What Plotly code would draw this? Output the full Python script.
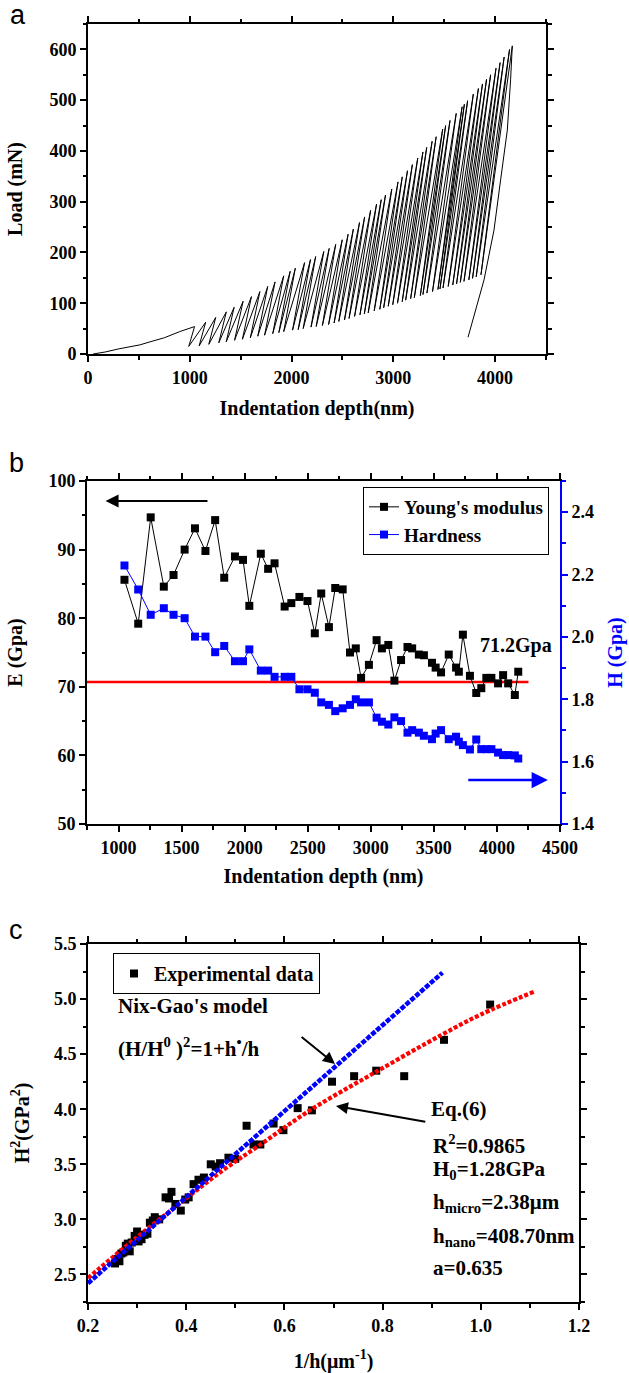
import plotly.graph_objects as go

W, H = 629, 1373
SERIF = "Liberation Serif"
SANS = "Liberation Sans"

# ---------------- Panel a : multi-cycle load / depth curve ----------------
init_depth = [50, 170, 300, 510, 610, 750, 900, 1000, 1047]
init_load = [0, 4, 10, 18, 24, 32, 44, 51, 54]

cycle_depth = [1047, 1156, 1255, 1359, 1436, 1524, 1606, 1689, 1766, 1838,
               1923, 1987, 2037, 2128, 2186, 2237, 2317, 2370, 2434, 2498,
               2556, 2607, 2668, 2718, 2777, 2835, 2881, 2923, 2985, 3046,
               3088, 3139, 3187, 3240, 3291, 3328, 3381, 3421, 3485, 3514,
               3557, 3618, 3676, 3698, 3730, 3786, 3836, 3876, 3916, 3956,
               4009, 4049, 4089, 4142, 4169]
peak_load = [54, 62.5, 72, 83, 92, 104, 113, 123, 133, 142,
             154, 163, 169, 180, 186, 192, 202, 208, 216, 225,
             236, 246, 259, 270, 283, 295, 304, 313, 325, 339,
             349, 361, 373, 386, 398, 407, 419, 428, 443, 450,
             460, 474, 487, 492, 499, 512, 523, 532, 541, 550,
             563, 574, 585, 600, 607]
valley_depth = [990, 1092, 1187, 1285, 1358, 1440, 1517, 1595, 1668, 1735,
                1815, 1875, 1923, 2010, 2065, 2114, 2191, 2242, 2303, 2364,
                2418, 2464, 2520, 2565, 2619, 2672, 2715, 2753, 2812, 2867,
                2905, 2950, 2994, 3041, 3087, 3121, 3170, 3206, 3265, 3291,
                3330, 3385, 3438, 3458, 3488, 3539, 3584, 3621, 3658, 3694,
                3742, 3778, 3814, 3861]
valley_load = [15, 16, 19, 22, 24, 27, 29, 32, 35, 37,
               40, 42, 44, 47, 48, 50, 53, 54, 56, 58,
               61, 64, 67, 70, 74, 77, 79, 81, 85, 88,
               91, 94, 97, 100, 103, 106, 109, 111, 115, 117,
               120, 123, 127, 128, 130, 133, 136, 138, 141, 143,
               146, 149, 152, 156]
final_unload_depth = [4169, 4152, 4120, 4054, 3989, 3891, 3810, 3734]
final_unload_load = [607, 540, 441, 343, 244, 146, 88, 33]

# ---------------- Panel b : modulus and hardness ----------------
E_gpa = [85.6, 79.2, 94.7, 84.6, 86.3, 90.0, 93.1, 89.8, 94.3, 85.9,
         89.0, 88.5, 81.8, 89.4, 87.2, 88.0, 81.7, 82.2, 83.1, 82.5,
         77.8, 83.6, 78.7, 84.4, 84.2, 75.0, 75.6, 71.3, 73.2, 76.8,
         75.6, 76.1, 70.9, 73.9, 75.8, 75.6, 74.7, 74.6, 73.5, 72.8,
         72.1, 74.7, 72.8, 72.2, 77.6, 71.6, 69.1, 69.8, 71.3, 71.3,
         70.5, 71.7, 70.5, 68.8, 72.2]
H_gpa = [2.229, 2.152, 2.071, 2.092, 2.071, 2.060, 2.001, 2.001, 1.951, 1.971,
         1.922, 1.922, 1.960, 1.892, 1.892, 1.872, 1.872, 1.872, 1.832, 1.832,
         1.821, 1.790, 1.782, 1.762, 1.771, 1.782, 1.800, 1.790, 1.790, 1.741,
         1.728, 1.719, 1.742, 1.730, 1.693, 1.701, 1.693, 1.683, 1.672, 1.690,
         1.701, 1.672, 1.680, 1.664, 1.653, 1.639, 1.671, 1.640, 1.640, 1.640,
         1.629, 1.621, 1.621, 1.620, 1.610]
E_ref_value = 70.7
E_ref_span = [750, 4250]

# ---------------- Panel c : H^2 versus 1/h ----------------
inv_h = [0.255, 0.260, 0.264, 0.268, 0.272, 0.277, 0.281, 0.285, 0.289, 0.295,
         0.300, 0.303, 0.309, 0.315, 0.321, 0.326, 0.332, 0.336, 0.345, 0.358,
         0.365, 0.370, 0.378, 0.389, 0.398, 0.405, 0.415, 0.425, 0.436, 0.450,
         0.460, 0.469, 0.486, 0.500, 0.523, 0.537, 0.551, 0.578, 0.598, 0.627,
         0.656, 0.697, 0.742, 0.787, 0.844, 0.925, 1.019]
H_sq = [2.60, 2.64, 2.62, 2.69, 2.70, 2.76, 2.78, 2.71, 2.79, 2.85,
        2.89, 2.80, 2.82, 2.86, 2.87, 2.97, 2.99, 3.02, 3.00, 3.20,
        3.19, 3.25, 3.14, 3.08, 3.18, 3.20, 3.32, 3.36, 3.38, 3.50,
        3.48, 3.51, 3.56, 3.55, 3.85, 3.68, 3.68, 3.87, 3.81, 4.01,
        3.99, 4.25, 4.30, 4.35, 4.30, 4.63, 4.95]
nixgao_x = [0.2, 0.922]
nixgao_y = [2.42, 5.24]
eq6_x = [0.2, 0.3, 0.4, 0.476, 0.545, 0.652, 0.783, 0.92, 1.0, 1.11]
eq6_y = [2.467, 2.84, 3.19, 3.45, 3.66, 3.99, 4.33, 4.675, 4.86, 5.07]

# build the zig-zag loading path for panel a
path_x = list(init_depth)
path_y = list(init_load)
for i in range(len(valley_depth)):
    path_x += [valley_depth[i], cycle_depth[i + 1]]
    path_y += [valley_load[i], peak_load[i + 1]]
path_x += final_unload_depth[1:]
path_y += final_unload_load[1:]

fig = go.Figure()

fig.add_trace(go.Scatter(x=path_x, y=path_y, mode="lines",
                         line=dict(color="black", width=1),
                         xaxis="x", yaxis="y", showlegend=False))

fig.add_trace(go.Scatter(x=E_ref_span, y=[E_ref_value, E_ref_value], mode="lines",
                         line=dict(color="#ff0000", width=2.5),
                         xaxis="x2", yaxis="y2", showlegend=False))
fig.add_trace(go.Scatter(x=cycle_depth, y=E_gpa, mode="lines+markers",
                         name="Young's modulus",
                         line=dict(color="black", width=1),
                         marker=dict(symbol="square", size=8, color="black"),
                         xaxis="x2", yaxis="y2", legend="legend"))
fig.add_trace(go.Scatter(x=cycle_depth, y=H_gpa, mode="lines+markers",
                         name="Hardness",
                         line=dict(color="#0000ff", width=1),
                         marker=dict(symbol="square", size=8, color="#0000ff"),
                         xaxis="x2", yaxis="y3", legend="legend"))

fig.add_trace(go.Scatter(x=inv_h, y=H_sq, mode="markers", name="Experimental data",
                         marker=dict(symbol="square", size=8, color="black"),
                         xaxis="x3", yaxis="y4", legend="legend2"))
fig.add_trace(go.Scatter(x=eq6_x, y=eq6_y, mode="lines",
                         line=dict(color="#ff0000", width=4.2, shape="spline", dash="4px,2px"),
                         xaxis="x3", yaxis="y4", showlegend=False))
fig.add_trace(go.Scatter(x=nixgao_x, y=nixgao_y, mode="lines",
                         line=dict(color="#0000ff", width=4.5, dash="5px,1.5px"),
                         xaxis="x3", yaxis="y4", showlegend=False))

tickfont = dict(family=SERIF, size=18, color="black", weight="bold")
titlefont = dict(family=SERIF, size=20, color="black", weight="bold")


def ax(rng, dtick, minor_dtick, domain, title, standoff, tick0=None, fmt=None,
       mirror="ticks", color="black", tfont=None):
    d = dict(range=rng, dtick=dtick, domain=domain, showline=True, linecolor=color,
             linewidth=2, mirror=mirror, ticks="outside", ticklen=6, tickwidth=2,
             tickcolor=color, showgrid=False, zeroline=False, automargin=False,
             tickfont=tickfont,
             minor=dict(dtick=minor_dtick, ticks="outside", ticklen=3.5, tickwidth=1.5,
                        tickcolor=color, showgrid=False),
             title=dict(text=title, font=tfont or titlefont, standoff=standoff))
    if tick0 is not None:
        d["tick0"] = tick0
        d["minor"]["tick0"] = tick0
    if fmt:
        d["tickformat"] = fmt
    return d


fig.update_layout(
    width=W, height=H, margin=dict(l=0, r=0, t=0, b=0),
    template="none", paper_bgcolor="white", plot_bgcolor="white",
    xaxis=ax([0, 4500], 1000, 500, [88 / W, 546 / W], "Indentation depth(nm)", 14,
             tick0=0),
    yaxis=ax([0, 650], 100, 50, [1 - 354 / H, 1 - 24 / H], "Load (mN)", 21, tick0=0),
    xaxis2=ax([750, 4500], 500, 250, [87 / W, 560 / W], "Indentation depth (nm)", 12,
              tick0=1000),
    yaxis2=ax([50, 100], 10, 5, [1 - 824 / H, 1 - 481 / H], "E (Gpa)", 20, tick0=50,
              mirror=False),
    xaxis3=ax([0.2, 1.2], 0.2, 0.1, [88 / W, 579 / W], "1/h(μm<sup>-1</sup>)", 19,
              tick0=0.2, fmt=".1f"),
    yaxis4=ax([2.25, 5.5], 0.5, 0.25, [1 - 1302 / H, 1 - 944 / H],
              "H<sup>2</sup>(GPa<sup>2</sup>)", 19, tick0=2.5, fmt=".1f"),
    legend=dict(x=549 / W, xanchor="right", y=1 - 487 / H, yanchor="top",
                bordercolor="black", borderwidth=1, bgcolor="white",
                font=dict(family=SERIF, size=19, color="black", weight="bold"),
                tracegroupgap=0),
    legend2=dict(x=113 / W, xanchor="left", y=1 - 953 / H, yanchor="top",
                 bordercolor="black", borderwidth=1, bgcolor="white",
                 font=dict(family=SERIF, size=20, color="black", weight="bold")),
)
fig.layout.xaxis.anchor = "y"
fig.layout.yaxis.anchor = "x"
fig.layout.xaxis2.anchor = "y2"
fig.layout.yaxis2.anchor = "x2"
fig.layout.xaxis3.anchor = "y4"
fig.layout.yaxis4.anchor = "x3"

y3 = ax([1.4, 2.5], 0.2, 0.1, [1 - 824 / H, 1 - 481 / H], "H (Gpa)", 15, tick0=1.4,
        fmt=".1f", mirror=False, color="#0000ff",
        tfont=dict(family=SERIF, size=20, color="#0000ff", weight="bold"))
y3.update(overlaying="y2", side="right", anchor="x2")
fig.update_layout(yaxis3=y3)

ann = []
for letter, px, py in [("a", 18, 15), ("b", 16, 463), ("c", 16, 930)]:
    ann.append(dict(text=letter, x=px / W, y=1 - py / H, xref="paper", yref="paper",
                    xanchor="center", yanchor="middle", showarrow=False,
                    font=dict(family=SANS, size=27, color="black")))

# panel b arrows and label
ann.append(dict(text="", x=897, y=97.1, ax=1717, ay=97.1, xref="x2", yref="y2",
                axref="x2", ayref="y2", showarrow=True, arrowhead=2, arrowsize=1.3,
                arrowwidth=2, arrowcolor="black"))
ann.append(dict(text="", x=4404, y=56.4, ax=3761, ay=56.4, xref="x2", yref="y2",
                axref="x2", ayref="y2", showarrow=True, arrowhead=2, arrowsize=1.3,
                arrowwidth=2.5, arrowcolor="#0000ff"))
ann.append(dict(text="71.2Gpa", x=4151, y=76.0, xref="x2", yref="y2", showarrow=False,
                xanchor="center", yanchor="middle",
                font=dict(family=SERIF, size=20, color="black", weight="bold")))

# panel c arrows and texts
ann.append(dict(text="", x=0.703, y=4.411, ax=0.632, ay=4.666, xref="x3", yref="y4",
                axref="x3", ayref="y4", showarrow=True, arrowhead=2, arrowsize=1.2,
                arrowwidth=2, arrowcolor="black"))
ann.append(dict(text="", x=0.705, y=4.029, ax=0.890, ay=3.883, xref="x3", yref="y4",
                axref="x3", ayref="y4", showarrow=True, arrowhead=2, arrowsize=1.2,
                arrowwidth=2, arrowcolor="black"))
cfont = dict(family=SERIF, size=21, color="black", weight="bold")
for txt, x, y in [("Nix-Gao's model", 0.257, 4.939),
                  ("(H/H<sup>0</sup> )<sup>2</sup>=1+h<sup>•</sup>/h", 0.257, 4.556),
                  ("Eq.(6)", 0.894, 4.001),
                  ("R<sup>2</sup>=0.9865", 0.899, 3.683),
                  ("H<sub>0</sub>=1.28GPa", 0.899, 3.446),
                  ("h<sub>micro</sub>=2.38μm", 0.899, 3.146),
                  ("h<sub>nano</sub>=408.70nm", 0.899, 2.837),
                  ("a=0.635", 0.899, 2.555)]:
    ann.append(dict(text=txt, x=x, y=y, xref="x3", yref="y4", showarrow=False,
                    xanchor="left", yanchor="middle", font=cfont))

fig.update_layout(annotations=ann)
fig.write_html("out.html", config={"displayModeBar": False},
               post_script="document.body.style.margin='0px';document.body.style.padding='0px';")
